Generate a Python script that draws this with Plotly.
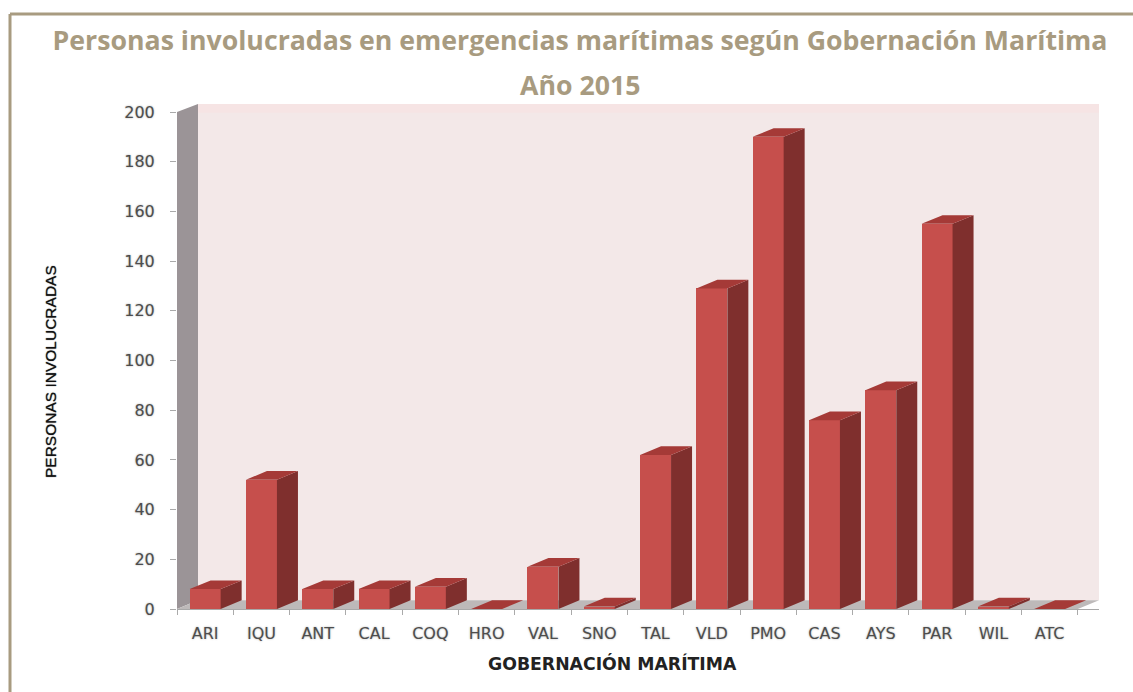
import plotly.graph_objects as go

categories = ["ARI", "IQU", "ANT", "CAL", "COQ", "HRO", "VAL", "SNO", "TAL", "VLD", "PMO", "CAS", "AYS", "PAR", "WIL", "ATC"]
personas = [8, 52, 8, 8, 9, 0, 17, 1, 62, 129, 190, 76, 88, 155, 1, 0]
y_ticks = list(range(0, 201, 20))

# page geometry (px)
W, H = 1133, 692
L, R, T, B = 177, 1099, 104, 609
PX_X = 56.3
PX_Y = 497 / 200
x0 = -0.5
x1 = x0 + (R - L) / PX_X
y1 = (B - T) / PX_Y
DX = 21 / PX_X
DY = 8.7 / PX_Y
BW = 31 / PX_X
x_end = x0 + len(categories)
TAN = "#a89b80"


def px(x):
    return (x - L) / (R - L)


def py(y):
    return (B - y) / (B - T)


def poly(points):
    return "M" + " L".join(f"{a},{b}" for a, b in points) + " Z"


def faces(vals, kind):
    xs, ys = [], []
    for i, v in enumerate(vals):
        a, b = i - BW / 2, i + BW / 2
        if kind == "top":
            xs += [a, a + DX, b + DX, b, a, None]
            ys += [v, v + DY, v + DY, v, v, None]
        else:
            xs += [b, b + DX, b + DX, b, b, None]
            ys += [0, DY, v + DY, v, 0, None]
    return xs, ys


fig = go.Figure()
fig.add_bar(x=list(range(len(categories))), y=personas, width=BW,
            marker=dict(color="#c64f4c", line=dict(width=0)), hoverinfo="skip", name="Personas")
sx, sy = faces(personas, "side")
fig.add_scatter(x=sx, y=sy, mode="lines", fill="toself", fillcolor="#7f2f2d",
                line=dict(width=0), hoverinfo="skip")
tx, ty = faces(personas, "top")
fig.add_scatter(x=tx, y=ty, mode="lines", fill="toself", fillcolor="#a53a37",
                line=dict(width=0), hoverinfo="skip")

shapes = [
    dict(type="path", layer="below", line_width=0, fillcolor="#f3e8e8",
         path=poly([(x0 + DX, DY), (x1, DY), (x1, y1), (x0 + DX, y1)])),
    dict(type="path", layer="below", line_width=0, fillcolor="#f6e4e4",
         path=poly([(x0 + DX, y1 - DY), (x1, y1 - DY), (x1, y1), (x0 + DX, y1)])),
    dict(type="path", layer="below", line_width=0, fillcolor="#9b9497",
         path=poly([(x0, 0), (x0 + DX, DY), (x0 + DX, y1), (x0, 200)])),
    dict(type="path", layer="below", line_width=0, fillcolor="#bdb9b9",
         path=poly([(x0, 0), (x_end, 0), (x1, DY), (x0 + DX, DY)])),
    dict(type="line", xref="paper", yref="paper", x0=px(10), x1=px(W), y0=py(14), y1=py(14),
         line=dict(color=TAN, width=3)),
    dict(type="line", xref="paper", yref="paper", x0=px(10), x1=px(10), y0=py(14), y1=py(H),
         line=dict(color=TAN, width=3)),
]

tick_font = dict(family="DejaVu Sans", size=16, color="#4d4d4d", shadow="0 0 2px #aaaaaa")
title_font = dict(family="Open Sans", size=26.7, color=TAN, weight="bold")


def note(text, x, y, font, angle=0):
    return dict(text=text, x=px(x), y=py(y), xref="paper", yref="paper", showarrow=False,
                xanchor="center", yanchor="middle", font=font, textangle=angle)


fig.update_layout(
    width=W, height=H, autosize=False,
    margin=dict(l=L, r=W - R, t=T, b=H - B, pad=0),
    paper_bgcolor="white", plot_bgcolor="rgba(0,0,0,0)",
    showlegend=False, shapes=shapes, bargap=0,
    title=dict(text="Personas involucradas en emergencias marítimas según Gobernación Marítima",
               font=title_font,
               x=px(580), xref="paper", xanchor="center", y=1 - 41 / H, yref="container", yanchor="middle"),
    annotations=[
        note("Año 2015", 580, 85, title_font),
        note("GOBERNACIÓN MARÍTIMA", 612, 663,
             dict(family="DejaVu Sans", size=17.3, color="#222222", weight="bold")),
        note("PERSONAS INVOLUCRADAS", 50, 372,
             dict(family="Liberation Sans", size=15.5, color="#111111", shadow="0 0 1px #333333"), angle=-90),
    ],
    xaxis=dict(range=[x0, x1], tickmode="array", tickvals=list(range(len(categories))),
               ticktext=categories, ticks="", showgrid=False, zeroline=False, showline=False,
               tickfont=tick_font, ticklabelstandoff=13,
               minor=dict(ticks="outside", tick0=-0.5, dtick=1, ticklen=5, tickcolor="#aaaaaa",
                          tickwidth=1, showgrid=False)),
    yaxis=dict(range=[0, y1], tickmode="array", tickvals=y_ticks, ticks="outside", ticklen=6,
               tickcolor="#aaaaaa", showgrid=False, zeroline=True, zerolinecolor="#a8a8a8",
               zerolinewidth=1, showline=False, tickfont=tick_font, ticklabelstandoff=12),
)

fig.write_html("out.html", config=dict(displayModeBar=False),
               post_script="document.body.style.margin='0';document.documentElement.style.overflow='hidden';")
